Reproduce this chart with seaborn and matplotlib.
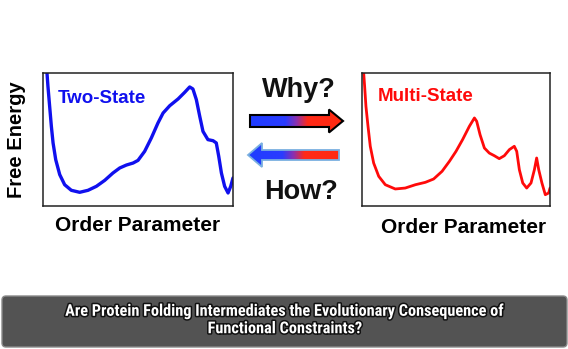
import numpy as np
import pandas as pd
import matplotlib
matplotlib.use("Agg")
import matplotlib.pyplot as plt
import seaborn as sns
from matplotlib.patches import Polygon, FancyBboxPatch
import matplotlib.patheffects as pe
from matplotlib.colors import LinearSegmentedColormap
from matplotlib import font_manager

# ---------------- data ----------------
two_state_x = [0.021, 0.026, 0.035, 0.044, 0.053, 0.067, 0.088, 0.114, 0.149, 0.193,
               0.237, 0.281, 0.325, 0.368, 0.404, 0.439, 0.474, 0.500, 0.535, 0.570,
               0.605, 0.632, 0.667, 0.711, 0.746, 0.772, 0.789, 0.807, 0.825, 0.842,
               0.868, 0.895, 0.912, 0.925, 0.939, 0.956, 0.974, 0.988, 1.000]
two_state_y = [1.000, 0.900, 0.749, 0.599, 0.474, 0.348, 0.236, 0.160, 0.118, 0.103,
               0.118, 0.148, 0.193, 0.248, 0.286, 0.308, 0.323, 0.343, 0.411, 0.511,
               0.624, 0.699, 0.754, 0.805, 0.855, 0.895, 0.880, 0.800, 0.674, 0.561,
               0.499, 0.491, 0.474, 0.373, 0.248, 0.148, 0.098, 0.148, 0.211]

multi_state_x = [0.009, 0.014, 0.021, 0.032, 0.044, 0.062, 0.089, 0.124, 0.177, 0.230,
                 0.284, 0.337, 0.381, 0.426, 0.465, 0.500, 0.535, 0.571, 0.598, 0.610,
                 0.628, 0.651, 0.677, 0.704, 0.730, 0.757, 0.784, 0.810, 0.823, 0.837,
                 0.855, 0.876, 0.899, 0.917, 0.929, 0.940, 0.957, 0.975, 0.993, 1.000]
multi_state_y = [1.000, 0.900, 0.749, 0.599, 0.449, 0.323, 0.223, 0.160, 0.128, 0.135,
                 0.160, 0.178, 0.203, 0.261, 0.336, 0.411, 0.499, 0.599, 0.662, 0.637,
                 0.536, 0.436, 0.398, 0.378, 0.356, 0.378, 0.424, 0.449, 0.411, 0.273,
                 0.173, 0.135, 0.173, 0.273, 0.361, 0.273, 0.173, 0.085, 0.098, 0.135]

panel_titles = ["Two-State", "Multi-State"]
x_label = "Order Parameter"
y_label = "Free Energy"
why_text = "Why?"
how_text = "How?"
banner_lines = "Are Protein Folding Intermediates the Evolutionary Consequence of\nFunctional Constraints?"

# ---------------- figure ----------------
sns.set_theme(style="white")
plt.rcParams['font.family'] = ['Liberation Sans', 'DejaVu Sans']

installed = {f.name for f in font_manager.fontManager.ttflist}
banner_font = 'DejaVu Sans'
for cand in ['Liberation Sans Narrow', 'DejaVu Sans Condensed', 'Roboto Condensed',
             'Open Sans Condensed', 'Noto Sans Condensed', 'Liberation Sans']:
    if cand in installed:
        banner_font = cand
        break

W, H = 568, 349
fig = plt.figure(figsize=(W / 100, H / 100), dpi=100)
fig.patch.set_facecolor("white")

ov = fig.add_axes([0, 0, 1, 1], zorder=0)
ov.set_xlim(0, W)
ov.set_ylim(H, 0)
ov.axis("off")

def px_axes(l, t, r, b):
    return [l / W, (H - b) / H, (r - l) / W, (b - t) / H]

ax1 = fig.add_axes(px_axes(43, 73, 233, 206), zorder=2)
ax2 = fig.add_axes(px_axes(362, 73, 550, 206), zorder=2)

df1 = pd.DataFrame({"x": two_state_x, "y": two_state_y})
df2 = pd.DataFrame({"x": multi_state_x, "y": multi_state_y})
sns.lineplot(data=df1, x="x", y="y", ax=ax1, color="#1010ee", lw=2.4, sort=False)
sns.lineplot(data=df2, x="x", y="y", ax=ax2, color="#ff0a0a", lw=2.0, sort=False)
for ax in (ax1, ax2):
    for ln in ax.lines:
        ln.set_solid_joinstyle("round")
        ln.set_solid_capstyle("round")

for ax in (ax1, ax2):
    ax.set_xlim(0, 1)
    ax.set_ylim(0, 1)
    ax.set_xticks([])
    ax.set_yticks([])
    ax.patch.set_alpha(0)
    for s in ax.spines.values():
        s.set_color("#222222")
        s.set_linewidth(1.1)

ax1.set_xlabel(x_label, fontsize=15, fontweight="bold", color="black", va="center")
ax1.xaxis.set_label_coords(0.5, -0.143)
ax1.set_ylabel(y_label, fontsize=14.5, fontweight="bold", color="black", va="center")
ax1.yaxis.set_label_coords(-0.137, 0.496)
ax2.set_xlabel(x_label, fontsize=15, fontweight="bold", color="black", va="center")
ax2.xaxis.set_label_coords(0.54, -0.165)
ax2.set_ylabel("")

ax1.text(0.079, 0.812, panel_titles[0], transform=ax1.transAxes, fontsize=13.5,
         fontweight="bold", color="#1010ee", va="center", ha="left")
ax2.text(0.085, 0.82, panel_titles[1], transform=ax2.transAxes, fontsize=13.5,
         fontweight="bold", color="#ff0a0a", va="center", ha="left")

ov.text(298.5, 90, why_text, fontsize=19.5, fontweight="bold", color="#111111",
        ha="center", va="center")
ov.text(301.5, 192, how_text, fontsize=19.5, fontweight="bold", color="#111111",
        ha="center", va="center")

cmap = LinearSegmentedColormap.from_list(
    "br", [(0, "#1f3cff"), (0.38, "#2a3cff"), (0.5, "#8a30b0"), (0.62, "#ff2a18"), (1, "#ff2a10")])
grad = np.linspace(0, 1, 256).reshape(1, -1)

def grad_arrow(pts, x0, x1, y0, y1, edge, lw):
    poly = Polygon(pts, closed=True, facecolor="none", edgecolor=edge, lw=lw, zorder=3,
                   joinstyle="miter")
    ov.add_patch(poly)
    im = ov.imshow(grad, cmap=cmap, extent=(x0, x1, y1, y0), aspect="auto", zorder=2,
                   interpolation="bilinear")
    im.set_clip_path(poly)

grad_arrow([(250, 115), (329, 115), (329, 109.5), (343, 121), (329, 132.5), (329, 127), (250, 127)],
           250, 343, 109, 133, "#000000", 1.5)
grad_arrow([(248, 155), (262, 143), (262, 150), (339, 150), (339, 160), (262, 160), (262, 167)],
           248, 339, 143, 167, "#7ab0e0", 1.3)
ov.set_xlim(0, W)
ov.set_ylim(H, 0)

banner = FancyBboxPatch((2, 296), 565, 51, boxstyle="round,pad=0,rounding_size=4",
                        facecolor="#535353", edgecolor="#8a8a8a", lw=1.0, zorder=1)
ov.add_patch(banner)
bt = ov.text(285, 320, banner_lines, ha="center", va="center", fontsize=10.5,
             fontweight="bold", color="white", linespacing=1.2,
             family=[banner_font, 'DejaVu Sans'],
             path_effects=[pe.withStroke(linewidth=2.2, foreground="#111111")], zorder=4)

# fit banner text width to the reference (~440 px)
renderer = fig.canvas.get_renderer()
w = bt.get_window_extent(renderer).width
bt.set_fontsize(10.5 * 440.0 / w)

fig.savefig("out.png", dpi=100, facecolor="white")
